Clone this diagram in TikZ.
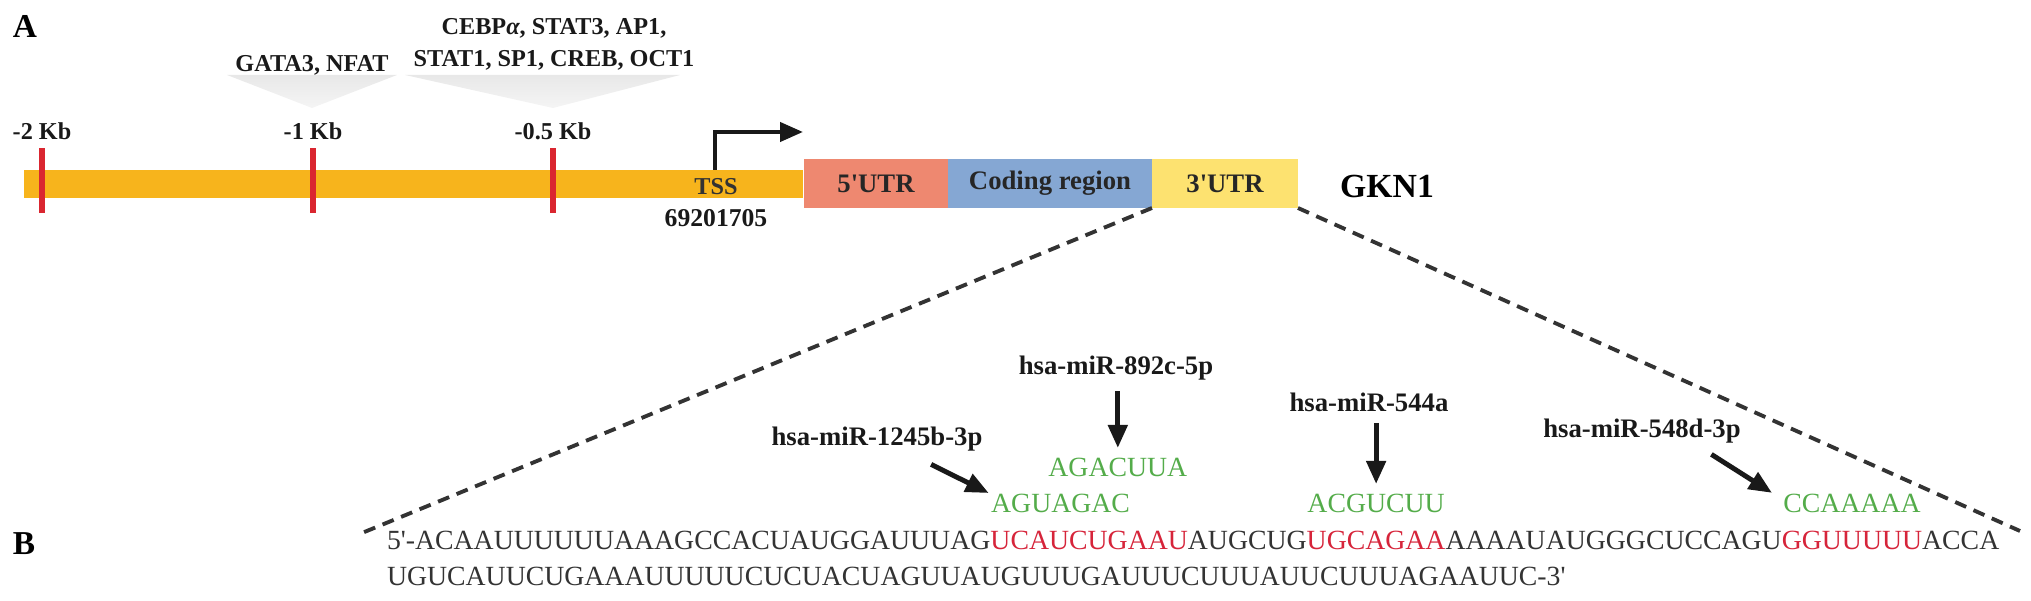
\documentclass[tikz,border=0pt]{standalone}
\usepackage{fontspec}
\setmainfont{Liberation Serif}
\usetikzlibrary{arrows.meta,positioning}

\definecolor{promoter}{RGB}{247,180,28}
\definecolor{tickred}{RGB}{218,38,48}
\definecolor{utrfive}{RGB}{238,136,112}
\definecolor{coding}{RGB}{133,167,211}
\definecolor{utrthree}{RGB}{253,226,112}
\definecolor{seedgreen}{RGB}{84,172,74}
\definecolor{sitered}{RGB}{214,36,58}

\begin{document}
\begin{tikzpicture}[>={Triangle[length=0.23cm,width=0.19cm]},
  seq/.style={font=\fontsize{7.9}{9}\selectfont,text=black!80,inner sep=0pt,outer sep=0pt,anchor=base west},
  seed/.style={font=\fontsize{7.9}{9}\selectfont,text=seedgreen,inner sep=0pt},
  mir/.style={font=\bfseries\fontsize{7.6}{9}\selectfont,text=black!90,inner sep=0pt,anchor=base},
  small/.style={font=\bfseries\fontsize{6.9}{8}\selectfont,text=black!90,inner sep=0pt,anchor=base},
  region/.style={minimum height=0.49cm,inner sep=0pt,outer sep=0pt,font=\bfseries\fontsize{7.6}{9}\selectfont,text=black!85},
  panel/.style={font=\bfseries\fontsize{9.5}{11}\selectfont,inner sep=0pt,anchor=base},
  mirarrow/.style={->,line width=1.4pt,black!90,shorten <=0.1cm,shorten >=0.1cm},
  zoomline/.style={black!80,line width=1.1pt,dash pattern=on 0.12cm off 0.08cm}]
\useasboundingbox (0,0) rectangle (20.31,6.01);
\node[panel] (pa) at (0.25,5.63) {A};
\node[panel] (pb) at (0.24,0.46) {B};
% binding sites upstream
\shade[top color=black!9,bottom color=black!4] (2.27,5.26) -- (3.97,5.26) -- (3.12,4.93) -- cycle;
\shade[top color=black!9,bottom color=black!4] (4.05,5.26) -- (6.80,5.26) -- (5.53,4.93) -- cycle;
\node[small] (tfa) at (3.12,5.29) {GATA3, NFAT};
\node[small] (tfb) at (5.54,5.34) {STAT1, SP1, CREB, OCT1};
\node[small] (tfc) at (5.54,5.66) {CEBP\textit{α}, STAT3, AP1,};
% promoter
\fill[promoter] (0.24,4.03) rectangle (8.03,4.31);
\foreach \x/\t in {0.42/-2 Kb,3.13/-1 Kb,5.53/-0.5 Kb}{
  \draw[tickred,line width=1.6pt] (\x,3.88) -- (\x,4.53);
  \node[small] at (\x,4.61) {\t};
}
\node[small,text=black!80] (tss) at (7.16,4.06) {TSS};
\node[small,font=\bfseries\fontsize{7.3}{8}\selectfont] (pos) at (7.16,3.74) {69201705};
\draw[->,line width=1.2pt,black!90] (7.15,4.31) |- (8.03,4.69);
% transcript
\node[region,fill=utrfive,minimum width=1.44cm] (utr5) at (8.76,4.175) {5\textquotesingle UTR};
\node[region,fill=coding,minimum width=2.04cm,right=0pt of utr5] (cds) {Coding region};
\node[region,fill=utrthree,minimum width=1.46cm,right=0pt of cds] (utr3) {3\textquotesingle UTR};
\node[panel,font=\bfseries\fontsize{9.6}{11}\selectfont] (gene) at (13.87,4.03) {GKN1};
% 3'UTR sequence
\node[seq] (sq1) at (3.87,0.51) {5\textquotesingle-ACAAUUUUUUAAAGCCACUAUGGAUUUAG};
\node[seq,text=sitered] (sq2) at (sq1.base east) {UCAUCUGAAU};
\node[seq] (sq3) at (sq2.base east) {AUGCUG};
\node[seq,text=sitered] (sq4) at (sq3.base east) {UGCAGAA};
\node[seq] (sq5) at (sq4.base east) {AAAAUAUGGGCUCCAGU};
\node[seq,text=sitered] (sq6) at (sq5.base east) {GGUUUUU};
\node[seq] (sq7) at (sq6.base east) {ACCA};
\node[seq] (sq8) at (3.87,0.15) {UGUCAUUCUGAAAUUUUUCUCUACUAGUUAUGUUUGAUUUCUUUAUUCUUUAGAAUUC-3\textquotesingle};
\coordinate (za) at (3.62,0.68);
\coordinate (zb) at (20.20,0.70);
\draw[zoomline] (utr3.south west) -- (za);
\draw[zoomline] (utr3.south east) -- (zb);
% seed matches
\node[seed,anchor=base west] (s1245) at ([yshift=0.37cm]sq2.base west) {AGUAGAC};
\node[seed,anchor=base east] (s892) at ([yshift=0.73cm]sq2.base east) {AGACUUA};
\node[seed,anchor=base] (s544) at ([yshift=0.37cm]sq4.base) {ACGUCUU};
\node[seed,anchor=base] (s548) at ([yshift=0.37cm]sq6.base) {CCAAAAA};
\node[mir] (l1245) at (8.77,1.55) {hsa-miR-1245b-3p};
\node[mir] (l892) at (11.16,2.26) {hsa-miR-892c-5p};
\node[mir] (l544) at (13.69,1.89) {hsa-miR-544a};
\node[mir] (l548) at (16.42,1.63) {hsa-miR-548d-3p};
\draw[mirarrow,shorten <=0pt,shorten >=0.02cm] ([xshift=-5.2mm,yshift=-1.2mm]l1245.south east) -- (s1245.north west);
\draw[mirarrow] (s892.north |- l892.south) -- (s892.north);
\draw[mirarrow] (s544.north |- l544.south) -- (s544.north);
\draw[mirarrow,shorten <=0pt,shorten >=0.02cm] ([xshift=-3mm,yshift=-1mm]l548.south east) -- ([xshift=-0.9mm]s548.north west);
\end{tikzpicture}
\end{document}
